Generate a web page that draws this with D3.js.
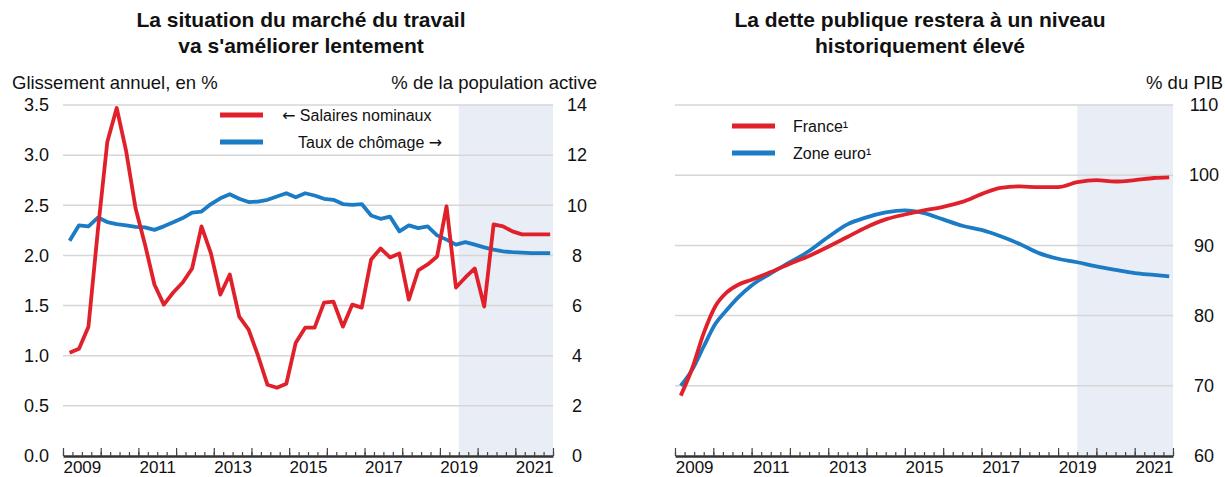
<!DOCTYPE html>
<html>
<head>
<meta charset="utf-8">
<script src="https://cdn.jsdelivr.net/npm/d3@7"></script>
<style>
  body { margin: 0; background: #fff; }
  svg { display: block; font-family: "Liberation Sans", Arial, sans-serif; }
  .grid line { stroke: #d6d6d6; stroke-width: 1.5; }
  .arrow { font-family: "DejaVu Sans", sans-serif; }
</style>
</head>
<body>
<div id="chart"></div>
<script>
// --- left panel: quarterly data 2009Q1 - 2021Q4
const salaires = [1.03, 1.07, 1.29, 2.25, 3.13, 3.47, 3.04, 2.47, 2.11, 1.71, 1.51, 1.63, 1.73, 1.87, 2.29, 2.02,
  1.61, 1.81, 1.39, 1.26, 1.00, 0.71, 0.68, 0.72, 1.13, 1.28, 1.28, 1.53, 1.54, 1.29, 1.51, 1.48,
  1.96, 2.07, 1.98, 2.02, 1.56, 1.85, 1.91, 1.99, 2.49, 1.68, 1.78, 1.87, 1.49, 2.31, 2.29, 2.24,
  2.21, 2.21, 2.21, 2.21];
const chomage = [8.59, 9.20, 9.16, 9.51, 9.33, 9.25, 9.20, 9.14, 9.12, 9.02, 9.16, 9.32, 9.49, 9.71, 9.75, 10.05,
  10.28, 10.44, 10.26, 10.13, 10.15, 10.22, 10.35, 10.48, 10.32, 10.48, 10.39, 10.26, 10.22, 10.05, 10.02, 10.05,
  9.59, 9.46, 9.55, 8.96, 9.20, 9.09, 9.16, 8.80, 8.63, 8.43, 8.53, 8.43, 8.32, 8.23, 8.16, 8.13,
  8.11, 8.09, 8.09, 8.09];

// --- right panel: public debt, % of GDP
const detteDates = [2009.15, 2009.45, 2009.75, 2010.05, 2010.35, 2010.65, 2011.0, 2011.5, 2012.0, 2012.5,
  2013.0, 2013.5, 2014.0, 2014.5, 2015.0, 2015.5, 2016.0, 2016.5, 2017.0, 2017.5, 2018.0, 2018.5,
  2019.0, 2019.5, 2020.0, 2020.5, 2021.0, 2021.5, 2021.9];
const france = [68.6, 72.5, 77.5, 81.3, 83.3, 84.4, 85.1, 86.2, 87.4, 88.5, 89.8, 91.2, 92.6, 93.7, 94.4, 95.0,
  95.5, 96.2, 97.3, 98.2, 98.4, 98.3, 98.3, 99.0, 99.3, 99.1, 99.3, 99.6, 99.7];
const zoneEuro = [70.0, 72.3, 75.6, 78.8, 80.8, 82.6, 84.3, 86.0, 87.6, 89.2, 91.2, 93.0, 94.0, 94.7, 95.0, 94.6,
  93.7, 92.8, 92.2, 91.3, 90.2, 88.9, 88.1, 87.6, 87.0, 86.5, 86.05, 85.8, 85.6];

const yearLabels = [2009, 2011, 2013, 2015, 2017, 2019, 2021];
const ticksLeft = [0, 0.5, 1, 1.5, 2, 2.5, 3, 3.5];
const ticksRightL = [0, 2, 4, 6, 8, 10, 12, 14];
const ticksDette = [60, 70, 80, 90, 100, 110];
const forecastStart = 2019.5;

const red = "#e0212b", blue = "#1b7bc4", shade = "#e9edf5";
const width = 1225, height = 477;

const svg = d3.select("#chart").append("svg")
  .attr("width", width)
  .attr("height", height);

function xAxes(g, x, bottom) {
  // quarter ticks, year ticks and labels in mid-year
  const quarters = d3.range(2009, 2022.01, 0.25);
  const years = d3.range(2009, 2023);
  g.append("g").attr("transform", `translate(0,${bottom})`)
    .call(d3.axisBottom(x).tickValues(quarters).tickSize(-4).tickSizeOuter(0).tickFormat(""))
    .call(a => a.selectAll("line").attr("stroke", "#444").attr("stroke-width", 1.2))
    .call(a => a.select(".domain").attr("stroke", "#333").attr("stroke-width", 2.5));
  g.append("g").attr("transform", `translate(0,${bottom})`)
    .call(d3.axisBottom(x).tickValues(years).tickSize(-8).tickSizeOuter(0).tickFormat(""))
    .call(a => a.selectAll("line").attr("stroke", "#444").attr("stroke-width", 1.2))
    .call(a => a.select(".domain").remove());
  g.append("g").attr("transform", `translate(0,${bottom})`)
    .call(d3.axisBottom(x).tickValues(yearLabels.map(d => d + 0.5)).tickSize(0).tickPadding(4)
      .tickFormat(d => String(Math.floor(d))))
    .call(a => a.select(".domain").remove())
    .call(a => a.selectAll("text").attr("font-size", 17).attr("fill", "#111").attr("dy", "0.78em"));
}

function grid(g, x, y, ticks) {
  g.append("g").attr("class", "grid")
    .selectAll("line")
    .data(ticks.filter(d => d !== y.domain()[0]))
    .enter().append("line")
    .attr("x1", x.range()[0]).attr("x2", x.range()[1])
    .attr("y1", d => y(d)).attr("y2", d => y(d));
}

function text(g, x, y, s, opts = {}) {
  return g.append("text")
    .attr("x", x).attr("y", y)
    .attr("font-size", opts.size || 18)
    .attr("font-weight", opts.bold ? "bold" : null)
    .attr("text-anchor", opts.anchor || "start")
    .attr("fill", "#111")
    .text(s);
}

// ---------------- left panel ----------------
const plotTop = 105, plotBottom = 456;
const x1 = d3.scaleLinear().domain([2009, 2022]).range([63, 553]);
const yL = d3.scaleLinear().domain([0, 3.5]).range([plotBottom, plotTop]);
const yR = d3.scaleLinear().domain([0, 14]).range([plotBottom, plotTop]);
const tq = i => 2009 + (i + 0.7) / 4;

const left = svg.append("g");
left.append("rect")
  .attr("x", x1(forecastStart)).attr("y", plotTop)
  .attr("width", x1(2022) - x1(forecastStart)).attr("height", plotBottom - plotTop)
  .attr("fill", shade);
grid(left, x1, yL, ticksLeft);

left.append("g").attr("transform", "translate(63,0)")
  .call(d3.axisLeft(yL).tickValues(ticksLeft).tickSize(0).tickPadding(14).tickFormat(d3.format(".1f")))
  .call(a => a.select(".domain").remove())
  .call(a => a.selectAll("text").attr("font-size", 18).attr("fill", "#111"));
left.append("g").attr("transform", "translate(553,0)")
  .call(d3.axisRight(yR).tickValues(ticksRightL).tickSize(0).tickPadding(24))
  .call(a => a.select(".domain").remove())
  .call(a => a.selectAll("text").attr("font-size", 18).attr("fill", "#111").attr("text-anchor", "middle"));

xAxes(left, x1, plotBottom);

left.append("path")
  .datum(chomage)
  .attr("fill", "none").attr("stroke", blue).attr("stroke-width", 3.8).attr("stroke-linejoin", "round")
  .attr("d", d3.line().x((d, i) => x1(tq(i))).y(d => yR(d)));
left.append("path")
  .datum(salaires)
  .attr("fill", "none").attr("stroke", red).attr("stroke-width", 3.8).attr("stroke-linejoin", "round")
  .attr("d", d3.line().x((d, i) => x1(tq(i))).y(d => yL(d)));

text(left, 301, 27, "La situation du marché du travail", { size: 21, bold: true, anchor: "middle" });
text(left, 301, 53, "va s'améliorer lentement", { size: 21, bold: true, anchor: "middle" });
text(left, 12, 89, "Glissement annuel, en %", { size: 18.5 });
text(left, 597, 89, "% de la population active", { size: 18.5, anchor: "end" });

// legend
left.append("line").attr("x1", 220).attr("x2", 263).attr("y1", 115).attr("y2", 115)
  .attr("stroke", red).attr("stroke-width", 5);
left.append("line").attr("x1", 220).attr("x2", 263).attr("y1", 142).attr("y2", 142)
  .attr("stroke", blue).attr("stroke-width", 5);
const l1 = text(left, 282, 121, "", { size: 16 });
l1.append("tspan").attr("class", "arrow").text("←");
l1.append("tspan").text(" Salaires nominaux");
const l2 = text(left, 298, 148, "Taux de chômage ", { size: 16 });
l2.append("tspan").attr("class", "arrow").text("→");

// ---------------- right panel ----------------
const x2 = d3.scaleLinear().domain([2009, 2022]).range([675, 1173]);
const y2 = d3.scaleLinear().domain([60, 110]).range([plotBottom, plotTop]);

const right = svg.append("g");
right.append("rect")
  .attr("x", x2(forecastStart)).attr("y", plotTop)
  .attr("width", x2(2022) - x2(forecastStart)).attr("height", plotBottom - plotTop)
  .attr("fill", shade);
grid(right, x2, y2, ticksDette);

right.append("g").attr("transform", "translate(1173,0)")
  .call(d3.axisRight(y2).tickValues(ticksDette).tickSize(0).tickPadding(31))
  .call(a => a.select(".domain").remove())
  .call(a => a.selectAll("text").attr("font-size", 18).attr("fill", "#111").attr("text-anchor", "middle"));

xAxes(right, x2, plotBottom);

const detteLine = d3.line().curve(d3.curveMonotoneX).x((d, i) => x2(detteDates[i])).y(d => y2(d));
right.append("path").datum(zoneEuro)
  .attr("fill", "none").attr("stroke", blue).attr("stroke-width", 3.8)
  .attr("d", detteLine);
right.append("path").datum(france)
  .attr("fill", "none").attr("stroke", red).attr("stroke-width", 3.8)
  .attr("d", detteLine);

text(right, 920, 27, "La dette publique restera à un niveau", { size: 21, bold: true, anchor: "middle" });
text(right, 920, 53, "historiquement élevé", { size: 21, bold: true, anchor: "middle" });
text(right, 1146, 89, "% du PIB", { size: 18.5 });

right.append("line").attr("x1", 732).attr("x2", 775).attr("y1", 126).attr("y2", 126)
  .attr("stroke", red).attr("stroke-width", 5);
right.append("line").attr("x1", 732).attr("x2", 775).attr("y1", 153).attr("y2", 153)
  .attr("stroke", blue).attr("stroke-width", 5);
text(right, 793, 132, "France¹", { size: 16 });
text(right, 793, 159, "Zone euro¹", { size: 16 });
</script>
</body>
</html>
